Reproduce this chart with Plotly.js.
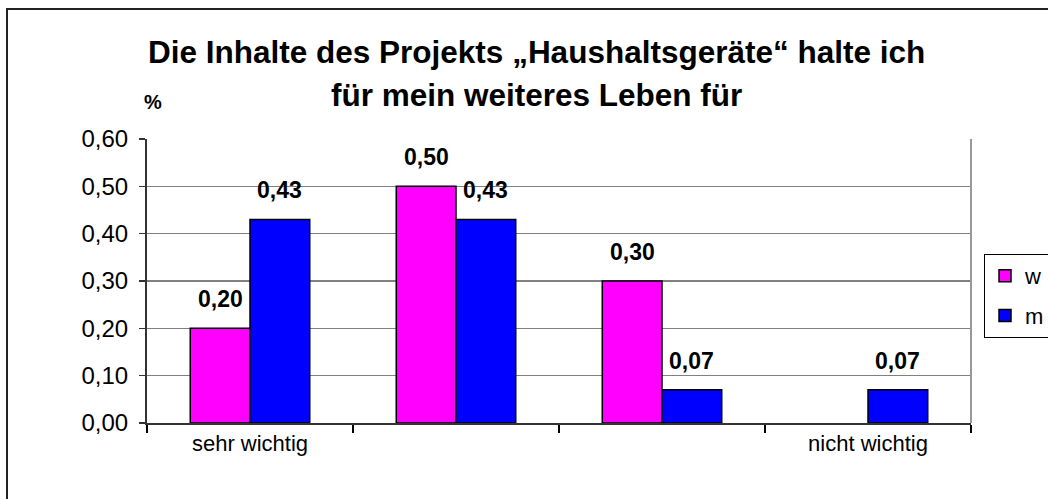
<!DOCTYPE html>
<html><head><meta charset="utf-8">
<script src="https://cdn.plot.ly/plotly-3.0.1.min.js"></script>
<style>html,body{margin:0;padding:0;overflow:hidden;background:#fff}#chart{width:1048px;height:499px}</style>
</head><body><div id="chart"></div>
<script>
// ---- data ----
const categories = ["sehr wichtig", "", "", "nicht wichtig"];
const seriesNames = ["w", "m"];
const valuesW = [0.20, 0.50, 0.30, null];
const valuesM = [0.43, 0.43, 0.07, 0.07];
const yTickVals = [0, 0.1, 0.2, 0.3, 0.4, 0.5, 0.6];
const titleLines = ["Die Inhalte des Projekts \u201EHaushaltsger\u00E4te\u201C halte ich", "f\u00FCr mein weiteres Leben f\u00FCr"];
const yUnit = "%";

// ---- layout constants ----
const W = 1048, H = 499;
const M = {l: 147, r: 77, t: 139, b: 76};
const PW = W - M.l - M.r, PH = H - M.t - M.b;
const px = x => (x - M.l) / PW;
const py = y => (H - M.b - y) / PH;
const FONT = "Liberation Sans, Arial, sans-serif";
const colors = ["#FF00FF", "#0000FF"];
const bargap = 0.42;
const barW = (1 - bargap) / 2;
const fmt = v => v.toFixed(2).replace(".", ",");

const xIdx = categories.map((c, i) => i);
const series = [valuesW, valuesM];

const traces = series.map((vals, s) => ({
  type: "bar", name: seriesNames[s], x: xIdx, y: vals,
  marker: {color: colors[s], line: {color: "#000", width: 1.5}},
  legendgroup: "g" + s, hoverinfo: "skip"
}));

const annotations = [];
series.forEach((vals, s) => {
  const off = (s === 0 ? -1 : 1) * barW / 2;
  vals.forEach((v, i) => {
    if (v === null) return;
    annotations.push({x: xIdx[i] + off, y: v, xref: "x", yref: "y", text: "<b>" + fmt(v) + "</b>",
      showarrow: false, yanchor: "middle", yshift: 29, font: {family: FONT, size: 23, color: "#000"}});
  });
});
annotations.push({x: px(536), y: py(52), xref: "paper", yref: "paper", text: "<b>" + titleLines[0] + "</b>",
  showarrow: false, xanchor: "center", yanchor: "middle", font: {family: FONT, size: 31.5, color: "#000"}});
annotations.push({x: px(536), y: py(95), xref: "paper", yref: "paper", text: "<b>" + titleLines[1] + "</b>",
  showarrow: false, xanchor: "center", yanchor: "middle", font: {family: FONT, size: 31.5, color: "#000"}});
annotations.push({x: px(153), y: py(102), xref: "paper", yref: "paper", text: "<b>" + yUnit + "</b>",
  showarrow: false, xanchor: "center", yanchor: "middle", font: {family: FONT, size: 20, color: "#000"}});

const layout = {
  width: W, height: H, margin: {l: M.l, r: M.r, t: M.t, b: M.b, autoexpand: false},
  paper_bgcolor: "#fff", plot_bgcolor: "#fff",
  separators: ",.",
  barmode: "group", bargap: bargap, bargroupgap: 0,
  font: {family: FONT, size: 22, color: "#000"},
  xaxis: {
    type: "linear", range: [-0.5, categories.length - 0.5], fixedrange: true,
    tickmode: "array", tickvals: xIdx, ticktext: categories, ticks: "",
    showgrid: false, zeroline: false, showline: true, linecolor: "#333", linewidth: 2,
    tickfont: {family: FONT, size: 22, color: "#000"},
    minor: {ticks: "outside", tick0: 0.5, dtick: 1, ticklen: 8, tickcolor: "#000", tickwidth: 1.5, showgrid: false}
  },
  yaxis: {
    range: [0, 0.6], fixedrange: true, tickmode: "array", tickvals: yTickVals, tickformat: ".2f",
    ticks: "outside", ticklen: 6, tickcolor: "#333", tickwidth: 1.5, ticklabelstandoff: 6,
    showgrid: true, gridcolor: "#808080", gridwidth: 1.5, zeroline: false,
    showline: true, linecolor: "#333", linewidth: 2,
    tickfont: {family: FONT, size: 24, color: "#000"}
  },
  showlegend: true,
  legend: {x: px(984), y: py(254), xanchor: "left", yanchor: "top", bgcolor: "#fff",
    bordercolor: "#000", borderwidth: 1, tracegroupgap: 8, traceorder: "grouped",
    font: {family: FONT, size: 22, color: "#000"}},
  annotations: annotations,
  shapes: [
    {type: "line", xref: "paper", yref: "paper", x0: 1, x1: 1, y0: 0, y1: 1, line: {color: "#999", width: 2}},
    {type: "rect", xref: "paper", yref: "paper", x0: px(7), x1: px(1100), y0: py(600), y1: py(9),
      line: {color: "#222", width: 2}, layer: "above"}
  ]
};

Plotly.newPlot("chart", traces, layout, {displayModeBar: false, staticPlot: true});
</script></body></html>
